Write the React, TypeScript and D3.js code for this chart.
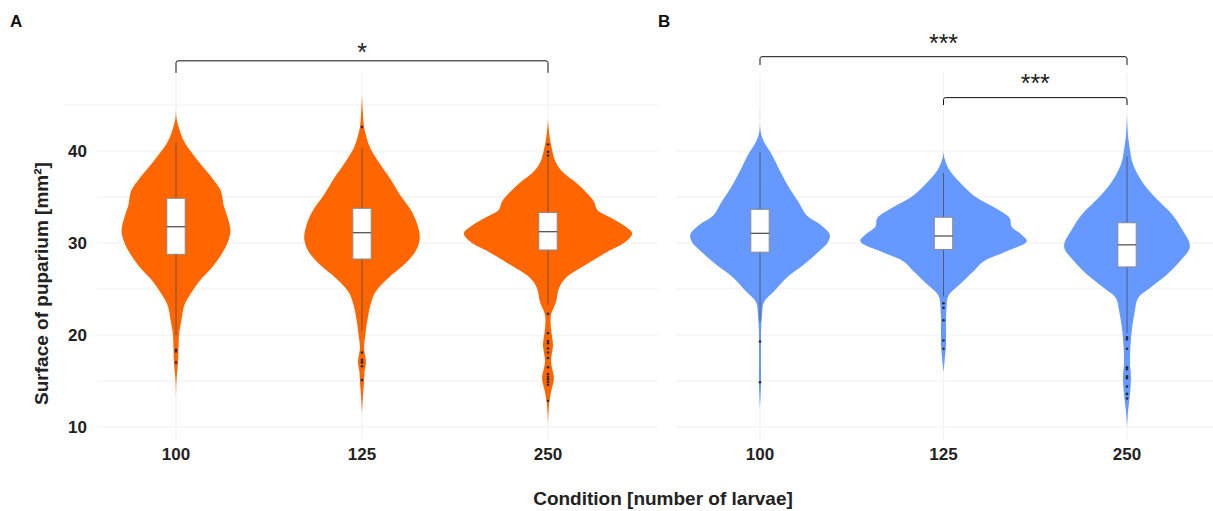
import * as d3 from "d3";

const categories = ["100", "125", "250"];
const yTickValues = [10, 20, 30, 40];
const gridA = [10, 15, 20, 25, 30, 35, 40, 45];
const gridB = [10, 15, 20, 25, 30, 35, 40];

// violin outlines: [surface mm², relative density (100 = widest violin)]
const violinA100 = [[44.8, 0], [43.6, 0.6], [42.5, 3.5], [41.0, 9.8], [38.8, 27], [37.0, 43], [35.6, 53], [34.1, 56], [33.0, 60], [31.4, 64], [30.1, 61], [28.7, 53], [27.2, 41], [25.8, 27], [24.3, 16], [23.3, 10], [21.4, 6], [20.0, 3.5], [18.6, 3], [17.1, 2.4], [15.1, 0.6], [13.3, 0]];
const violinA125 = [[46.0, 0], [43.9, 1.2], [42.6, 2.4], [41.4, 5.5], [40.3, 9.8], [38.8, 19.6], [37.0, 33], [35.2, 45], [33.8, 56], [32.3, 64], [30.5, 68], [29.1, 63], [27.6, 49], [26.2, 31], [24.7, 16], [23.3, 10], [21.4, 6], [20.0, 4], [18.6, 2.4], [17.1, 4.7], [16.0, 3], [14.9, 2.4], [13.5, 1.2], [11.5, 0]];
const violinA250 = [[43.4, 0], [42.1, 1.2], [40.7, 3.5], [38.8, 9], [37.75, 17], [36.7, 31], [35.6, 44], [34.5, 54], [33.6, 58], [32.7, 75], [31.8, 91], [31.05, 99], [30.1, 91], [29.05, 70], [27.6, 44], [26.2, 21], [25.1, 13], [23.6, 9.4], [22.2, 3.5], [20.7, 3.5], [18.9, 5.9], [17.1, 3.5], [15.3, 7], [13.8, 3.5], [12.4, 1.2], [10.4, 0]];
const violinB100 = [[44.7, 0], [42.1, 0.8], [41.0, 4.7], [39.6, 14], [37.75, 24], [35.9, 35], [34.5, 45], [33.0, 55], [32.0, 71], [30.9, 82], [30.1, 80], [29.05, 69], [27.6, 51], [26.2, 31], [24.7, 16], [23.6, 4.7], [22.2, 2.4], [20.7, 1.4], [18.6, 1.2], [16.4, 1.2], [14.6, 1.2], [12.0, 0]];
const violinB125 = [[39.9, 0], [39.2, 1.2], [38.1, 5.9], [36.7, 18], [35.2, 35], [33.8, 61], [32.7, 78], [31.8, 80], [30.9, 92], [30.2, 98], [29.05, 73], [28.0, 47], [26.9, 35], [25.4, 18], [24.3, 5.9], [22.9, 3.5], [20.7, 2.9], [18.9, 2.9], [17.1, 1.2], [16.0, 0]];
const violinB250 = [[43.9, 0], [41.7, 1.2], [40.3, 3.2], [38.8, 6.2], [37.4, 13], [35.9, 24], [34.5, 38], [33.0, 54], [31.6, 64], [29.6, 74], [28.0, 62], [26.5, 46], [25.1, 27], [24.0, 13], [22.5, 9], [20.7, 5.9], [18.9, 4.1], [17.1, 3.5], [15.3, 4.7], [13.5, 3.5], [11.7, 1.2], [10.0, 0]];

// box stats: [q1, median, q3, whisker low, whisker high]
const boxesA = [[28.77, 31.77, 34.86, 20.0, 41.0], [28.26, 31.12, 33.77, 20.4, 40.3], [29.24, 31.23, 33.3, 23.3, 39.3]];
const boxesB = [[29.0, 31.05, 33.66, 21.45, 39.9], [29.3, 30.76, 32.8, 24.2, 37.6], [27.4, 29.8, 32.2, 20.2, 39.4]];

const outliersA100 = [18.4, 18.2, 17.0];
const outliersA125 = [42.6, 18.1, 17.3, 17.1, 17.0, 16.6, 15.1];
const outliersA250 = [40.7, 39.9, 39.5, 22.3, 20.2, 19.35, 19.1, 18.55, 18.1, 17.5, 16.5, 15.76, 15.47, 15.2, 14.9, 14.6, 12.86];
const outliersB100 = [19.3, 14.86];
const outliersB125 = [23.45, 22.95, 21.6, 19.4, 18.5];
const outliersB250 = [19.75, 19.53, 18.5, 16.5, 16.27, 15.5, 15.3, 14.4, 13.6, 13.1];

// significance brackets (levels in axis units)
const bracketsA = [{ from: "100", to: "250", level: 49.8, drop: 48.5, label: "*", labelAt: 51.25 }];
const bracketsB = [
  { from: "100", to: "250", level: 50.25, drop: 49.35, label: "***", labelAt: 52.2 },
  { from: "125", to: "250", level: 45.8, drop: 45.0, label: "***", labelAt: 47.8 },
];

const W = 1213, H = 511;
const y = d3.scaleLinear().domain([10, 40]).range([427, 151]);
const dens = d3.scaleLinear().domain([0, 100]).range([0, 85]);
const xA = d3.scalePoint<string>().domain(categories).range([176, 548]);
const xB = d3.scalePoint<string>().domain(categories).range([760, 1127]);

type Br = { from: string; to: string; level: number; drop: number; label: string; labelAt: number };

function Panel({ x, violins, boxes, outliers, color, grid, gridX, brackets, letter, letterX, showY }:
  { x: d3.ScalePoint<string>; violins: number[][][]; boxes: number[][]; outliers: number[][]; color: string; grid: number[]; gridX: [number, number]; brackets: Br[]; letter: string; letterX: number; showY: boolean }) {
  return (
    <g>
      {grid.map(v => (
        <line key={"g" + v} x1={v === 45 ? 64 : gridX[0]} x2={gridX[1]} y1={y(v)} y2={y(v)} stroke="#EFEFEF" strokeWidth={1.2} />
      ))}
      {categories.map(c => (
        <line key={"v" + c} x1={x(c)} x2={x(c)} y1={73} y2={440} stroke="#F2F2F2" strokeWidth={1.2} />
      ))}
      {categories.map((c, i) => {
        const cx = x(c)!;
        const area = d3.area<number[]>()
          .y(d => y(d[0]))
          .x0(d => cx - dens(d[1]))
          .x1(d => cx + dens(d[1]))
          .curve(d3.curveCatmullRom.alpha(0.5));
        const [q1, med, q3, lo, hi] = boxes[i];
        return (
          <g key={"vio" + c}>
            <path d={area(violins[i]) || ""} fill={color} />
            <line x1={cx} x2={cx} y1={y(lo)} y2={y(hi)} stroke="#4a4a4a" strokeOpacity={0.75} strokeWidth={1} />
            <rect x={cx - 9.2} width={18.4} y={y(q3)} height={y(q1) - y(q3)} fill="#fff" stroke="#8a8a8a" strokeWidth={1} />
            <line x1={cx - 9.2} x2={cx + 9.2} y1={y(med)} y2={y(med)} stroke="#555" strokeWidth={1.3} />
            {outliers[i].map((o, j) => (
              <circle key={j} cx={cx} cy={y(o)} r={1.3} fill="#2b2b2b" />
            ))}
          </g>
        );
      })}
      {brackets.map((b, i) => {
        const x1 = x(b.from)!, x2 = x(b.to)!;
        const yl = y(b.level), yd = y(b.drop);
        return (
          <g key={"br" + i}>
            <path d={`M${x1},${yd} V${yl + 2} Q${x1},${yl} ${x1 + 2},${yl} H${x2 - 2} Q${x2},${yl} ${x2},${yl + 2} V${yd}`} fill="none" stroke="#111" strokeWidth={1} />
            <text x={(x1 + x2) / 2} y={y(b.labelAt) + 13} textAnchor="middle" fontFamily="Liberation Sans, Arial, sans-serif" fontSize={25} fill="#222">{b.label}</text>
          </g>
        );
      })}
      {categories.map(c => (
        <text key={"xt" + c} x={x(c)} y={460} textAnchor="middle" fontFamily="Liberation Sans, Arial, sans-serif" fontWeight="bold" fontSize={17} fill="#222">{c}</text>
      ))}
      {showY && yTickValues.map(v => (
        <text key={"yt" + v} x={87} y={y(v)} dy="0.36em" textAnchor="end" fontFamily="Liberation Sans, Arial, sans-serif" fontWeight="bold" fontSize={17} fill="#222">{v}</text>
      ))}
      <text x={letterX} y={27} fontFamily="Liberation Sans, Arial, sans-serif" fontWeight="bold" fontSize={17} fill="#111">{letter}</text>
    </g>
  );
}

export default function App() {
  return (
    <svg width={W} height={H} style={{ position: "absolute", left: 0, top: 0, background: "#fff" }}>
      <rect width={W} height={H} fill="#fff" />
      <Panel x={xA} violins={[violinA100, violinA125, violinA250]} boxes={boxesA}
        outliers={[outliersA100, outliersA125, outliersA250]} color="#FF6600" grid={gridA}
        gridX={[97, 658]} brackets={bracketsA} letter="A" letterX={10} showY={true} />
      <Panel x={xB} violins={[violinB100, violinB125, violinB250]} boxes={boxesB}
        outliers={[outliersB100, outliersB125, outliersB250]} color="#6699FF" grid={gridB}
        gridX={[676, 1213]} brackets={bracketsB} letter="B" letterX={658} showY={false} />
      <text transform={`translate(48,${(155 + 412) / 2}) rotate(-90)`} textAnchor="middle"
        fontFamily="Liberation Sans, Arial, sans-serif" fontWeight="bold" fontSize={19} fill="#222">
        Surface of puparium [mm²]
      </text>
      <text x={663} y={505} textAnchor="middle" fontFamily="Liberation Sans, Arial, sans-serif"
        fontWeight="bold" fontSize={19} fill="#222">
        Condition [number of larvae]
      </text>
    </svg>
  );
}
